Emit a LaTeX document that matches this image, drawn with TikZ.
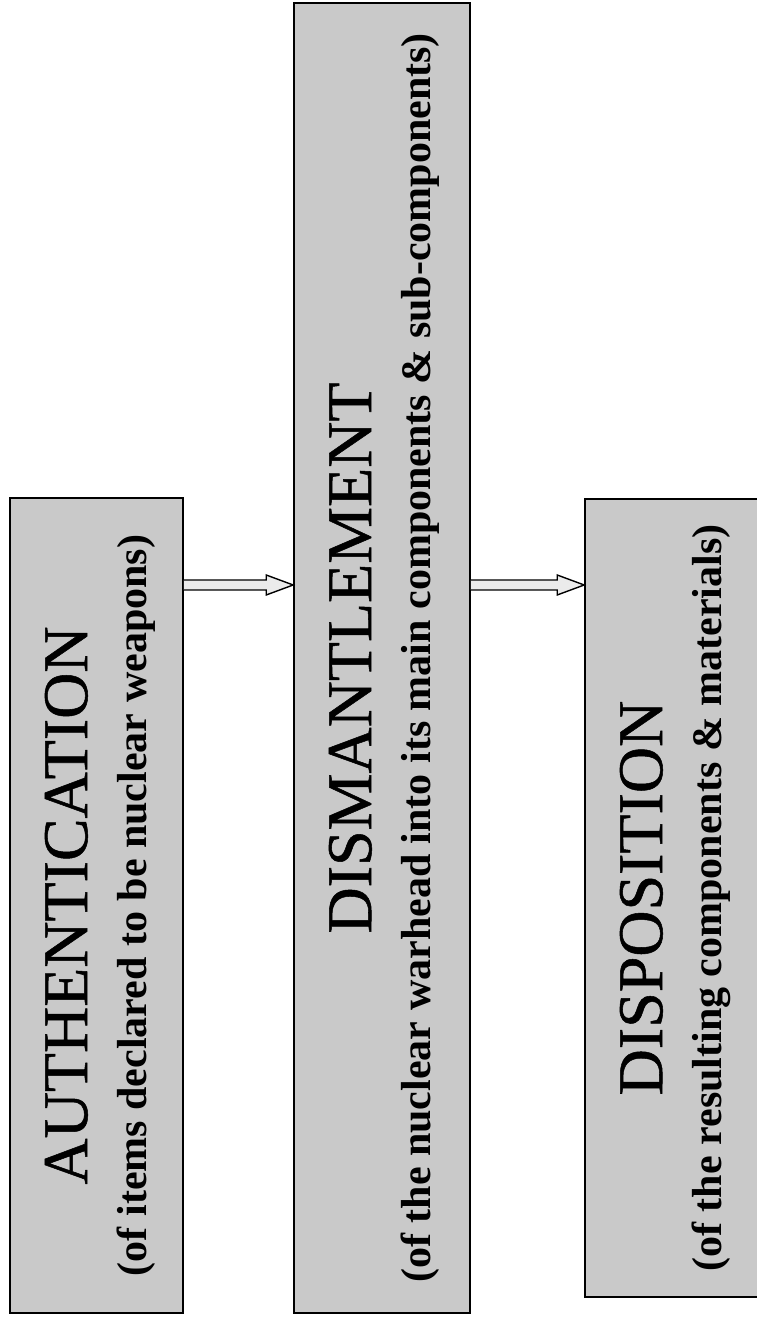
\documentclass[tikz,border=0pt]{standalone}
\usepackage{fontspec}
\setmainfont{Liberation Serif}
\newfontfamily\stagetitlefont[FakeBold=0.8]{Liberation Serif}
\usetikzlibrary{calc}
\begin{document}
\begin{tikzpicture}[x=1pt,y=1pt,
  stage/.style={draw=black, line width=1.6pt, fill=black!21, rectangle, inner sep=0pt},
  ttl/.style={rotate=90, anchor=base, inner sep=0pt, font=\stagetitlefont\fontsize{64}{64}\selectfont},
  sub/.style={rotate=90, anchor=base, inner sep=0pt, font=\fontsize{42}{42}\selectfont\bfseries},
  hollow/.style={draw=black, line width=1.4pt, fill=black!8, line join=miter}]
\useasboundingbox (0,0) rectangle (756,1317);
\node[stage, minimum width=173pt, minimum height=815pt] (A) at (96.5,411.5) {};
\node[stage, minimum width=176pt, minimum height=1310pt] (B) at (382,659) {};
\node[stage, minimum width=185pt, minimum height=798pt] (C) at (677.5,419) {};
% texts
\node[ttl] (At) at ($(A.west)+(78,0)$) {AUTHENTICATION};
\node[sub] (As) at ($(A.west)+(137,0)$) {(of items declared to be nuclear weapons)};
\node[ttl] (Bt) at ($(B.west)+(78,0)$) {DISMANTLEMENT};
\node[sub] (Bs) at ($(B.west)+(137,0)$) {(of the nuclear warhead into its main components \& sub-components)};
\node[ttl] (Ct) at ($(C.west)+(78,0)$) {DISPOSITION};
\node[sub] (Cs) at ($(C.west)+(137,0)$) {(of the resulting components \& materials)};
% arrows
\coordinate (lev) at (0,732);
\coordinate (s1) at (A.east |- lev);
\coordinate (t1) at (B.west |- lev);
\coordinate (s2) at (B.east |- lev);
\coordinate (t2) at (C.west |- lev);
\draw[hollow] ($(s1)+(0,5)$) -- ($(t1)+(-27,5)$) -- ($(t1)+(-27,10)$) -- (t1) -- ($(t1)+(-27,-10)$) -- ($(t1)+(-27,-5)$) -- ($(s1)+(0,-5)$);
\draw[hollow] ($(s2)+(0,5)$) -- ($(t2)+(-27,5)$) -- ($(t2)+(-27,10)$) -- (t2) -- ($(t2)+(-27,-10)$) -- ($(t2)+(-27,-5)$) -- ($(s2)+(0,-5)$);
\end{tikzpicture}
\end{document}
